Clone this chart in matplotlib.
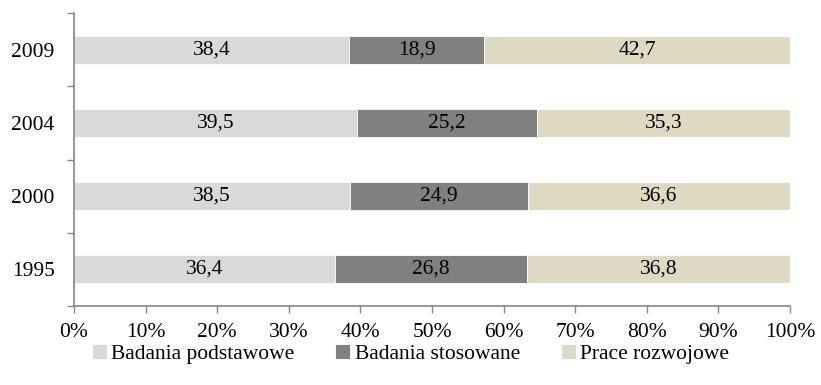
import matplotlib
matplotlib.use("Agg")
import matplotlib.pyplot as plt
import numpy as np

years = ["1995", "2000", "2004", "2009"]
basic = [36.4, 38.5, 39.5, 38.4]
applied = [26.8, 24.9, 25.2, 18.9]
development = [36.8, 36.6, 35.3, 42.7]
series_names = ["Badania podstawowe", "Badania stosowane", "Prace rozwojowe"]
colors = ["#D9D9D9", "#808080", "#DDD9C3"]
xticks = [0, 10, 20, 30, 40, 50, 60, 70, 80, 90, 100]

plt.rcParams["font.family"] = ["Liberation Serif", "DejaVu Serif"]
FS = 15.5

fig = plt.figure(figsize=(8.21, 3.85), dpi=100)
ax = fig.add_axes([74 / 821, 1 - 306 / 385, (790 - 74) / 821, (306 - 13) / 385])

y = np.arange(len(years))
left = np.zeros(len(years))
for vals, name, col in zip([basic, applied, development], series_names, colors):
    vals = np.array(vals)
    ax.barh(y, vals, left=left, height=0.38, color=col, label=name,
            edgecolor="white", linewidth=0.6)
    for yi, l, v in zip(y, left, vals):
        ax.text(l + v / 2, yi, f"{v:.1f}".replace(".", ","), ha="center", va="center",
                fontsize=FS, color="black")
    left = left + vals

ax.set_xlim(0, 100)
ax.set_ylim(-0.5, len(years) - 0.5)
ax.set_xticks(xticks)
ax.set_xticklabels([f"{t}%" for t in xticks], fontsize=FS)
ax.set_yticks(y)
ax.set_yticklabels(years, fontsize=FS)
ax.set_yticks(np.arange(-0.5, len(years), 1.0), minor=True)
ax.tick_params(axis="y", which="major", length=0, pad=14)
ax.tick_params(axis="y", which="minor", length=5, color="#868686", width=1)
ax.tick_params(axis="x", length=5, color="#868686", width=1, pad=7)

for s in ["top", "right"]:
    ax.spines[s].set_visible(False)
for s in ["left", "bottom"]:
    ax.spines[s].set_color("#868686")
    ax.spines[s].set_linewidth(1.2)

leg = fig.legend(loc="center", bbox_to_anchor=(0.5, 1 - 354 / 385), ncol=3,
                 frameon=False, fontsize=FS, handlelength=0.7, handleheight=0.7,
                 handletextpad=0.2, columnspacing=1.9)

fig.savefig("out.png", dpi=100)
